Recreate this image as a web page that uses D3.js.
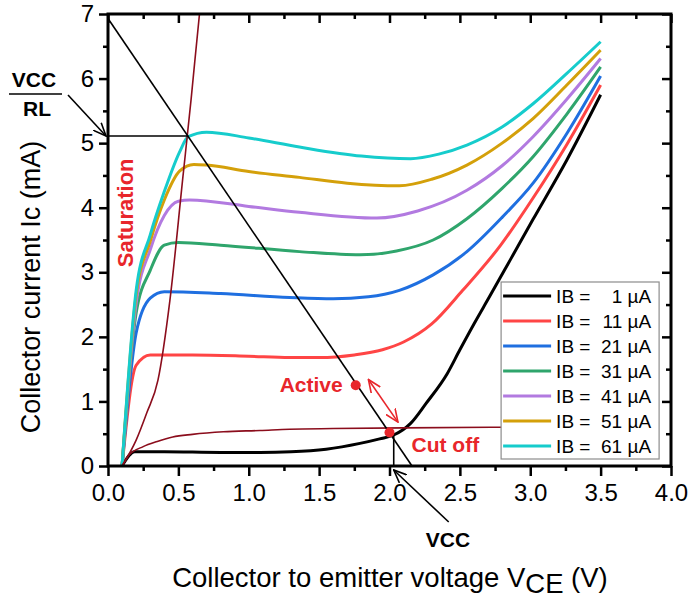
<!DOCTYPE html>
<html>
<head>
<meta charset="utf-8">
<script src="https://cdn.jsdelivr.net/npm/d3@7"></script>
<style>
body { margin: 0; background: #fff; }
svg { font-family: Arial, "Liberation Sans", sans-serif; }
</style>
</head>
<body>
<script>
// output characteristics, [VCE (V), Ic (mA)]
var ib1 = [[0.1,0],[0.19,0.22],[0.4,0.22],[0.8,0.21],[1.08,0.21],[1.3,0.22],[1.55,0.26],[1.79,0.35],[1.93,0.42],[2.03,0.48],[2.15,0.66],[2.26,0.97],[2.41,1.43],[2.5,1.8],[2.6,2.2],[2.71,2.62],[2.86,3.2],[3.02,3.82],[3.26,4.74],[3.5,5.75]];
var ib11 = [[0.1,0],[0.2,1.56],[0.3,1.72],[0.6,1.72],[1.0,1.70],[1.29,1.68],[1.5,1.68],[1.75,1.72],[1.95,1.8],[2.1,1.92],[2.3,2.2],[2.52,2.72],[2.79,3.42],[3.02,4.15],[3.26,4.98],[3.5,5.9]];
var ib21 = [[0.1,0],[0.2,2.06],[0.3,2.6],[0.4,2.7],[0.8,2.67],[1.29,2.61],[1.6,2.59],[1.85,2.62],[2.07,2.72],[2.31,2.96],[2.55,3.32],[2.8,3.85],[3.02,4.38],[3.26,5.15],[3.5,6.04]];
var ib31 = [[0.1,0],[0.2,2.37],[0.3,3.03],[0.4,3.42],[0.5,3.46],[0.8,3.42],[1.36,3.32],[1.79,3.27],[2.05,3.33],[2.31,3.5],[2.55,3.83],[2.8,4.3],[3.02,4.79],[3.26,5.45],[3.5,6.18]];
var ib41 = [[0.1,0],[0.2,2.52],[0.3,3.35],[0.4,3.88],[0.5,4.1],[0.58,4.12],[1.0,4.02],[1.36,3.93],[1.91,3.84],[2.2,3.95],[2.55,4.27],[2.8,4.65],[3.02,5.10],[3.26,5.68],[3.5,6.31]];
var ib51 = [[0.1,0],[0.2,2.65],[0.3,3.48],[0.4,4.12],[0.51,4.57],[0.61,4.67],[0.7,4.66],[1.0,4.56],[1.36,4.47],[1.7,4.38],[2.07,4.34],[2.3,4.44],[2.55,4.66],[2.8,5.0],[3.02,5.38],[3.26,5.9],[3.5,6.44]];
var ib61 = [[0.1,0],[0.2,2.72],[0.3,3.58],[0.4,4.25],[0.51,4.87],[0.57,5.1],[0.7,5.17],[1.0,5.08],[1.36,4.94],[1.8,4.8],[2.15,4.76],[2.35,4.83],[2.55,4.97],[2.8,5.25],[3.02,5.61],[3.26,6.08],[3.5,6.57]];

var ibValues = ['1', '11', '21', '31', '41', '51', '61'];
var ibColors = ['#000000', '#ff4545', '#1f6fe0', '#2fa56c', '#b27ae0', '#d4a00a', '#16cccc'];

// thin dark red curves
var steepCurve = [[0.1,0],[0.2,0.4],[0.275,0.82],[0.355,1.33],[0.44,2.57],[0.53,4.43],[0.59,5.67],[0.65,7.0],[0.67,7.4]];
var flatCurve = [[0.1,0],[0.15,0.17],[0.25,0.3],[0.35,0.38],[0.46,0.45],[0.6,0.49],[0.82,0.53],[1.08,0.55],[1.29,0.57],[1.6,0.58],[2.1,0.59],[2.8,0.6],[3.0,0.6]];

// load line and markers
var loadLine = [[0, 6.93], [2.16, 0]];
var satLevel = [[0, 5.11], [0.57, 5.11]];
var cutDrop = [[2.03, 0.47], [2.03, 0]];
var activePoint = [1.76, 1.25];
var cutPoint = [2.0, 0.52];
var activeArrow = [[1.85, 1.34], [2.06, 0.68]];

var xTicks = [0, 0.5, 1, 1.5, 2, 2.5, 3, 3.5, 4];
var xMinor = [0.25, 0.75, 1.25, 1.75, 2.25, 2.75, 3.25, 3.75];
var yTicks = [0, 1, 2, 3, 4, 5, 6, 7];
var yMinor = [0.5, 1.5, 2.5, 3.5, 4.5, 5.5, 6.5];


var margin = {top: 14, right: 19, bottom: 135, left: 108};
var width = 690 - margin.left - margin.right,
	height = 601 - margin.top - margin.bottom;

var x = d3.scaleLinear().domain([0, 4]).range([0, width]),
	y = d3.scaleLinear().domain([0, 7]).range([height, 0]);

var line = d3.line()
	.x(function(d) { return x(d[0]); })
	.y(function(d) { return y(d[1]); });

var smooth = d3.line()
	.curve(d3.curveMonotoneX)
	.x(function(d) { return x(d[0]); })
	.y(function(d) { return y(d[1]); });

var root = d3.select('body').append('svg')
	.attr('width', 690)
	.attr('height', 601);

var defs = root.append('defs');
defs.append('clipPath').attr('id', 'plot')
	.append('rect').attr('width', width).attr('height', height);

function arrowHead(id, color) {
	defs.append('marker')
		.attr('id', id)
		.attr('viewBox', '0 0 14 12')
		.attr('refX', 13).attr('refY', 6)
		.attr('markerWidth', 14).attr('markerHeight', 12)
		.attr('markerUnits', 'userSpaceOnUse')
		.attr('orient', 'auto-start-reverse')
		.append('path')
		.attr('d', 'M0,0.5 L13,6 L0,11.5')
		.style('fill', 'none')
		.style('stroke', color)
		.style('stroke-width', 1.6);
}
arrowHead('blk', '#000');
arrowHead('red', '#e8262b');

var svg = root.append('g')
	.attr('transform', 'translate(' + margin.left + ',' + margin.top + ')');


// curves
var curves = [ib1, ib11, ib21, ib31, ib41, ib51, ib61];
curves.forEach(function(c, i) {
	svg.append('path')
		.datum(c)
		.attr('d', smooth)
		.style('fill', 'none')
		.style('stroke', ibColors[i])
		.style('stroke-width', 3)
		.style('stroke-linejoin', 'round');
});

var plot = svg.append('g').attr('clip-path', 'url(#plot)');

plot.append('path').datum(steepCurve).attr('d', smooth)
	.style('fill', 'none').style('stroke', '#8b0d1c').style('stroke-width', 1.6);
plot.append('path').datum(flatCurve).attr('d', smooth)
	.style('fill', 'none').style('stroke', '#8b0d1c').style('stroke-width', 1.6);

[loadLine, satLevel, cutDrop].forEach(function(l) {
	svg.append('path').datum(l).attr('d', line)
		.style('fill', 'none').style('stroke', '#000').style('stroke-width', 1.6);
});

svg.append('path').datum(activeArrow).attr('d', line)
	.attr('marker-start', 'url(#red)')
	.attr('marker-end', 'url(#red)')
	.style('fill', 'none').style('stroke', '#e8262b').style('stroke-width', 1.6);

[activePoint, cutPoint].forEach(function(p) {
	svg.append('circle')
		.attr('cx', x(p[0])).attr('cy', y(p[1])).attr('r', 5)
		.style('fill', '#e8262b');
});

svg.append('text')
	.attr('x', x(activePoint[0]) - 13).attr('y', y(activePoint[1]) + 7)
	.attr('text-anchor', 'end')
	.style('font-size', '21px').style('font-weight', 'bold').style('fill', '#e8262b')
	.text('Active');

svg.append('text')
	.attr('x', x(cutPoint[0]) + 22).attr('y', y(cutPoint[1]) + 20)
	.style('font-size', '21px').style('font-weight', 'bold').style('fill', '#e8262b')
	.text('Cut off');

svg.append('text')
	.attr('transform', 'translate(' + (x(0.1) + 11) + ',' + y(3.92) + ') rotate(-90)')
	.attr('text-anchor', 'middle')
	.style('font-size', '22px').style('font-weight', 'bold').style('fill', '#e8262b')
	.text('Saturation');


// legend
var legend = svg.append('g')
	.attr('transform', 'translate(' + (x(2.8) - 1) + ',' + (y(0) - 184) + ')');

legend.append('rect')
	.attr('width', 158).attr('height', 177)
	.style('fill', '#fff').style('stroke', '#8c8c8c').style('stroke-width', 1.2);

ibValues.forEach(function(v, i) {
	var row = legend.append('g').attr('transform', 'translate(0,' + (14 + i * 25) + ')');
	row.append('line')
		.attr('x1', 2).attr('x2', 50)
		.style('stroke', ibColors[i]).style('stroke-width', 3);
	row.append('text')
		.attr('x', 55).attr('y', 7)
		.style('font-size', '19px')
		.text('IB =');
	row.append('text')
		.attr('x', 150).attr('y', 7)
		.attr('text-anchor', 'end')
		.style('font-size', '19px')
		.text(v + ' \u00b5A');
});


// axes
function styleAxis(g) {
	g.select('.domain').remove();
	g.selectAll('.tick line').style('stroke', '#000').style('stroke-width', 2.5);
	g.selectAll('text').style('font-size', '24px').style('fill', '#000')
		.style('font-family', 'Arial, "Liberation Sans", sans-serif');
}

svg.append('g')
	.attr('transform', 'translate(0,' + height + ')')
	.call(d3.axisBottom(x).tickValues(xTicks).tickSize(10).tickPadding(8)
		.tickFormat(d3.format('.1f')))
	.call(styleAxis);
svg.append('g')
	.attr('transform', 'translate(0,' + height + ')')
	.call(d3.axisBottom(x).tickValues(xMinor).tickSize(5).tickFormat(''))
	.call(styleAxis);

svg.append('g')
	.call(d3.axisLeft(y).tickValues(yTicks).tickSize(9).tickPadding(5)
		.tickFormat(d3.format('d')))
	.call(styleAxis);
svg.append('g')
	.call(d3.axisLeft(y).tickValues(yMinor).tickSize(5).tickFormat(''))
	.call(styleAxis);

svg.append('g')
	.call(d3.axisTop(x).tickValues(xTicks).tickSize(-9).tickFormat(''))
	.call(styleAxis);
svg.append('g')
	.call(d3.axisTop(x).tickValues(xMinor).tickSize(-5).tickFormat(''))
	.call(styleAxis);

svg.append('g')
	.attr('transform', 'translate(' + width + ',0)')
	.call(d3.axisRight(y).tickValues(yTicks).tickSize(-9).tickFormat(''))
	.call(styleAxis);
svg.append('g')
	.attr('transform', 'translate(' + width + ',0)')
	.call(d3.axisRight(y).tickValues(yMinor).tickSize(-5).tickFormat(''))
	.call(styleAxis);

svg.append('rect')
	.attr('width', width).attr('height', height)
	.style('fill', 'none').style('stroke', '#000').style('stroke-width', 3);


// VCC/RL and VCC callouts
var tipL = [x(0) - 2, y(satLevel[0][1])];
root.append('path')
	.attr('d', 'M' + (margin.left + tipL[0] - 38) + ',' + (margin.top + tipL[1] - 41) +
		'L' + (margin.left + tipL[0]) + ',' + (margin.top + tipL[1]))
	.attr('marker-end', 'url(#blk)')
	.style('stroke', '#000').style('stroke-width', 1.6);

root.append('text').attr('x', 34).attr('y', 87)
	.attr('text-anchor', 'middle')
	.style('font-size', '21px').style('font-weight', 'bold')
	.text('VCC');
root.append('line').attr('x1', 9).attr('x2', 62).attr('y1', 94).attr('y2', 94)
	.style('stroke', '#000').style('stroke-width', 1.6);
root.append('text').attr('x', 37).attr('y', 116)
	.attr('text-anchor', 'middle')
	.style('font-size', '21px').style('font-weight', 'bold')
	.text('RL');

var tipB = [x(cutDrop[1][0]), y(0) + 4];
root.append('path')
	.attr('d', 'M' + (margin.left + tipB[0] + 55) + ',' + (margin.top + tipB[1] + 52) +
		'L' + (margin.left + tipB[0]) + ',' + (margin.top + tipB[1]))
	.attr('marker-end', 'url(#blk)')
	.style('stroke', '#000').style('stroke-width', 1.6);

root.append('text').attr('x', 448).attr('y', 547)
	.attr('text-anchor', 'middle')
	.style('font-size', '21px').style('font-weight', 'bold')
	.text('VCC');


// axis titles
var xt = root.append('text')
	.attr('x', 390).attr('y', 587)
	.attr('text-anchor', 'middle')
	.style('font-size', '27.5px');
xt.append('tspan').text('Collector to emitter voltage V');
xt.append('tspan').attr('dy', 6).text('CE');
xt.append('tspan').attr('dy', -6).text(' (V)');

root.append('text')
	.attr('transform', 'translate(40,287) rotate(-90)')
	.attr('text-anchor', 'middle')
	.style('font-size', '27px')
	.text('Collector current Ic (mA)');
</script>
</body>
</html>
